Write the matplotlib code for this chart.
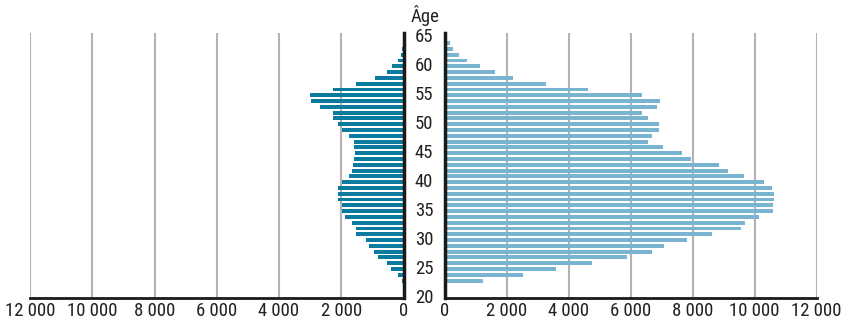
import numpy as np
import matplotlib
matplotlib.use("Agg")
import matplotlib.pyplot as plt
from matplotlib import font_manager

# ages 23..65
ages = list(range(23, 66))

# left series (dark blue), values by age 23..65
left_vals = [
    55, 185, 410, 540, 830, 960, 1120, 1215,      # 23-30
    1540, 1540, 1670, 1890, 1990, 1990, 2090, 2120,  # 31-38
    2090, 1990, 1760, 1670, 1630, 1600, 1570,    # 39-45
    1600, 1600, 1760, 1990, 2090, 2250, 2280,    # 46-52
    2670, 2960, 2990, 2280, 1540, 925, 540, 375,  # 53-60
    185, 85, 55, 25, 0,                          # 61-65
]

# right series (light blue), values by age 23..65
right_vals = [
    1240, 2530, 3590, 4750, 5880, 6690, 7080, 7820,  # 23-30
    8620, 9560, 9690, 10140, 10590, 10590, 10620, 10620,  # 31-38
    10560, 10300, 9660, 9140, 8850, 7950, 7660,  # 39-45
    7040, 6560, 6690, 6910, 6910, 6560, 6370,    # 46-52
    6850, 6950, 6370, 4620, 3270, 2200, 1620, 1140,  # 53-60
    720, 470, 280, 170, 75,                      # 61-65
]

x_ticks = [0, 2000, 4000, 6000, 8000, 10000, 12000]
x_ticklabels = ["0", "2 000", "4 000", "6 000", "8 000", "10 000", "12 000"]
age_ticks = [20, 25, 30, 35, 40, 45, 50, 55, 60, 65]


def pick_font():
    # look for a condensed / narrow face, fall back to Roboto
    wanted = ["LiberationSansNarrow-Regular", "RobotoCondensed-Regular",
              "DejaVuSansCondensed.ttf", "Roboto-Regular", "Lato-Regular"]
    files = [f.fname for f in font_manager.fontManager.ttflist]
    for w in wanted:
        for fn in files:
            if w in fn.split("/")[-1]:
                return fn, w
    return None, None


font_file, font_key = pick_font()
if font_file:
    fp = font_manager.FontProperties(fname=font_file)
else:
    fp = font_manager.FontProperties(family="DejaVu Sans")
condensed = bool(font_key) and ("Narrow" in font_key or "Condensed" in font_key)
fs = 13.5 if condensed else 12.5
fp.set_size(fs)

dark = "#0a7a9e"
light = "#79b4d1"
grid = "#b3b3b3"
txt = "#222222"

fig = plt.figure(figsize=(8.5, 3.26), dpi=100)
W, H = 850.0, 326.0
y_bot, y_top = 298.0, 33.0
ax_l = fig.add_axes([30 / W, 1 - y_bot / H, (403.5 - 30) / W, (y_bot - y_top) / H])
ax_r = fig.add_axes([444.5 / W, 1 - y_bot / H, (816.5 - 444.5) / W, (y_bot - y_top) / H])

ylim = (20, 65.75)
for ax in (ax_l, ax_r):
    ax.set_ylim(*ylim)
    ax.set_xlim(0, 12000)
    ax.spines["top"].set_visible(False)
    ax.spines["bottom"].set_color("#1a1a1a")
    ax.spines["bottom"].set_linewidth(2)
    ax.set_yticks([])
    ax.set_xticks(x_ticks)
    ax.set_xticklabels(x_ticklabels, fontproperties=fp, color=txt)
    ax.tick_params(axis="x", length=0, pad=3)
    for xv in x_ticks[1:]:
        ax.axvline(xv, color=grid, lw=1.5, zorder=0)

ax_l.invert_xaxis()
ax_l.spines["left"].set_visible(False)
ax_l.spines["right"].set_color("#1a1a1a")
ax_l.spines["right"].set_linewidth(2.5)
ax_r.spines["right"].set_visible(False)
ax_r.spines["left"].set_color("#1a1a1a")
ax_r.spines["left"].set_linewidth(2.5)

ax_l.barh(ages, left_vals, height=0.68, color=dark, zorder=2)
ax_r.barh(ages, right_vals, height=0.68, color=light, zorder=2)

# age labels in the middle gap
mid = 20.5 * 72 / 100
for a in age_ticks:
    ax_l.annotate(str(a), xy=(1.0, a), xycoords=("axes fraction", "data"),
                  xytext=(mid, 0), textcoords="offset points",
                  ha="center", va="center", fontproperties=fp, color=txt)
ax_l.annotate("Âge", xy=(1.0, 1.0), xycoords="axes fraction",
              xytext=(mid + 1, 5), textcoords="offset points",
              ha="center", va="bottom", fontproperties=fp, color=txt)

fig.savefig("out.png", dpi=100)
